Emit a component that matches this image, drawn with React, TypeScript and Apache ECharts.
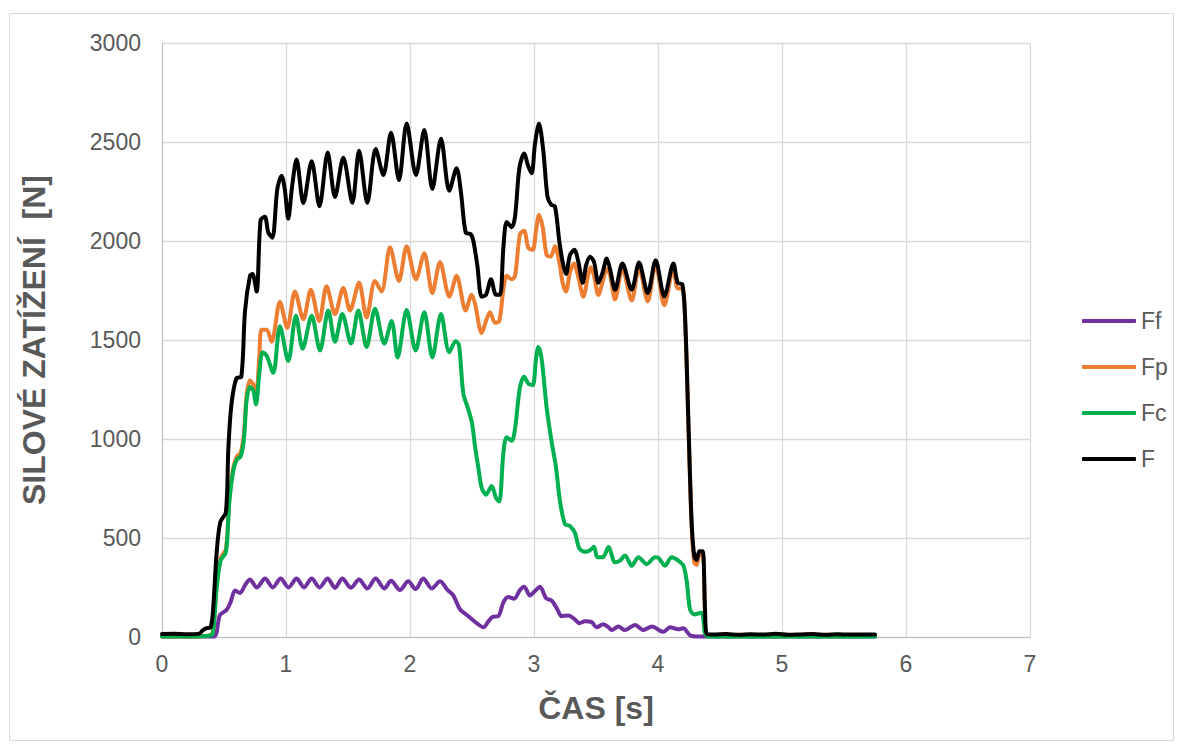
import React, { useEffect, useRef } from "react";
import * as echarts from "echarts";

// Time [s] / force [N] pairs
const seriesNames = ["Ff", "Fp", "Fc", "F"];
const seriesColors = ["#7030A0", "#ED7D31", "#00B050", "#000000"];

const dataFf: [number, number][] = [
  [0, 2], [0.3, 2], [0.42, 3], [0.467, 110], [0.521, 137], [0.553, 175], [0.589, 235], [0.629, 222],
  [0.67, 262], [0.709, 290], [0.764, 250], [0.831, 295], [0.893, 250], [0.957, 295], [1.02, 250],
  [1.085, 295], [1.145, 250], [1.207, 295], [1.27, 250], [1.336, 295], [1.395, 248], [1.454, 295],
  [1.524, 249], [1.589, 290], [1.656, 245], [1.723, 295], [1.793, 245], [1.847, 284], [1.919, 237],
  [1.986, 281], [2.045, 242], [2.107, 295], [2.175, 245], [2.242, 281], [2.304, 237], [2.349, 210],
  [2.403, 140], [2.45, 115], [2.49, 95], [2.538, 70], [2.592, 49], [2.632, 79], [2.667, 102],
  [2.712, 105], [2.753, 175], [2.793, 202], [2.839, 193], [2.887, 237], [2.92, 254], [2.968, 210],
  [3.008, 232], [3.048, 254], [3.097, 196], [3.143, 184], [3.188, 140], [3.223, 105], [3.277, 109],
  [3.331, 88], [3.366, 70], [3.411, 79], [3.465, 75], [3.505, 49], [3.559, 65], [3.6, 50],
  [3.627, 35], [3.68, 53], [3.734, 35], [3.815, 61], [3.882, 35], [3.95, 53], [4.043, 26],
  [4.097, 49], [4.164, 39], [4.205, 44], [4.258, 9], [4.326, 2], [4.5, 2], [4.8, 3], [5.1, 2],
  [5.4, 3], [5.75, 2],
];

const dataFp: [number, number][] = [
  [0, 3], [0.2, 3], [0.3, 4], [0.38, 8], [0.41, 22], [0.44, 255], [0.473, 398], [0.516, 445],
  [0.543, 695], [0.575, 855], [0.602, 910], [0.634, 930], [0.661, 1030], [0.682, 1220], [0.709, 1295],
  [0.736, 1275], [0.758, 1215], [0.785, 1420], [0.803, 1552], [0.844, 1552], [0.884, 1491],
  [0.951, 1693], [1.01, 1561], [1.072, 1745], [1.14, 1605], [1.2, 1754], [1.268, 1596], [1.327, 1771],
  [1.395, 1631], [1.462, 1763], [1.516, 1649], [1.589, 1789], [1.65, 1614], [1.718, 1798],
  [1.771, 1745], [1.839, 1968], [1.911, 1798], [1.973, 1973], [2.048, 1807], [2.115, 1938],
  [2.18, 1737], [2.242, 1894], [2.317, 1719], [2.376, 1824], [2.449, 1649], [2.497, 1728],
  [2.524, 1684], [2.578, 1535], [2.613, 1596], [2.645, 1640], [2.686, 1587], [2.72, 1596],
  [2.753, 1754], [2.78, 1824], [2.82, 1807], [2.847, 1824], [2.887, 2035], [2.92, 2052],
  [2.954, 1965], [2.99, 1956], [3.016, 2052], [3.04, 2131], [3.07, 2070], [3.102, 1929],
  [3.134, 1921], [3.169, 1973], [3.204, 1894], [3.231, 1789], [3.258, 1745], [3.29, 1842],
  [3.323, 1886], [3.358, 1815], [3.398, 1719], [3.438, 1833], [3.457, 1868], [3.484, 1824],
  [3.519, 1728], [3.559, 1807], [3.586, 1859], [3.613, 1830], [3.654, 1705], [3.713, 1862],
  [3.788, 1700], [3.847, 1866], [3.917, 1695], [3.981, 1880], [4.051, 1675], [4.124, 1862],
  [4.159, 1760], [4.197, 1760], [4.22, 1570], [4.244, 1095], [4.271, 560], [4.293, 375],
  [4.312, 365], [4.333, 415], [4.36, 418], [4.379, 130], [4.393, 8], [4.5, 5], [4.8, 4],
  [5.1, 5], [5.4, 4], [5.75, 5],
];

const dataFc: [number, number][] = [
  [0, 3], [0.2, 3], [0.3, 4], [0.38, 7], [0.41, 18], [0.44, 245], [0.473, 386], [0.516, 430],
  [0.543, 684], [0.575, 842], [0.602, 895], [0.634, 912], [0.661, 1000], [0.682, 1193], [0.709, 1263],
  [0.736, 1245], [0.758, 1175], [0.785, 1333], [0.811, 1438], [0.844, 1421], [0.897, 1333],
  [0.951, 1570], [1.018, 1394], [1.08, 1622], [1.134, 1456], [1.207, 1622], [1.274, 1447],
  [1.341, 1649], [1.395, 1491], [1.454, 1631], [1.524, 1482], [1.583, 1649], [1.65, 1465],
  [1.718, 1658], [1.793, 1482], [1.852, 1596], [1.9, 1412], [1.973, 1652], [2.045, 1447],
  [2.115, 1640], [2.18, 1412], [2.25, 1631], [2.317, 1438], [2.368, 1494], [2.395, 1475],
  [2.43, 1230], [2.47, 1150], [2.5, 1080], [2.525, 960], [2.55, 860], [2.578, 754], [2.613, 719],
  [2.659, 763], [2.694, 702], [2.72, 684], [2.753, 930], [2.78, 1009], [2.82, 991], [2.847, 1052],
  [2.887, 1263], [2.92, 1315], [2.954, 1280], [2.99, 1272], [3.016, 1403], [3.035, 1465],
  [3.062, 1403], [3.102, 1158], [3.143, 982], [3.177, 859], [3.21, 684], [3.25, 570], [3.29, 561],
  [3.33, 526], [3.366, 447], [3.411, 430], [3.452, 438], [3.484, 456], [3.511, 403], [3.556, 403],
  [3.6, 455], [3.654, 377], [3.694, 386], [3.734, 412], [3.788, 360], [3.842, 403], [3.909, 368],
  [3.976, 403], [4.003, 400], [4.057, 360], [4.11, 403], [4.164, 386], [4.205, 360], [4.232, 281],
  [4.258, 140], [4.293, 114], [4.352, 123], [4.379, 18], [4.406, 2], [4.6, 3], [4.9, 2],
  [5.2, 3], [5.5, 2], [5.75, 3],
];

const dataF: [number, number][] = [
  [0, 15], [0.1, 16], [0.2, 14], [0.3, 17], [0.33, 35], [0.36, 45], [0.39, 48], [0.41, 120],
  [0.44, 420], [0.47, 580], [0.515, 630], [0.535, 950], [0.56, 1175], [0.6, 1307], [0.64, 1315],
  [0.67, 1650], [0.71, 1825], [0.73, 1833], [0.763, 1745], [0.795, 2105], [0.83, 2122],
  [0.857, 2043], [0.89, 2017], [0.93, 2263], [0.965, 2330], [0.99, 2263], [1.018, 2113],
  [1.05, 2280], [1.085, 2412], [1.14, 2192], [1.207, 2403], [1.27, 2175], [1.336, 2447],
  [1.395, 2222], [1.462, 2421], [1.535, 2193], [1.589, 2456], [1.656, 2193], [1.723, 2465],
  [1.785, 2333], [1.847, 2547], [1.911, 2307], [1.973, 2593], [2.048, 2333], [2.115, 2561],
  [2.18, 2263], [2.25, 2517], [2.317, 2254], [2.376, 2368], [2.411, 2245], [2.449, 2043],
  [2.489, 2035], [2.511, 2000], [2.543, 1877], [2.578, 1719], [2.613, 1728], [2.653, 1807],
  [2.694, 1728], [2.726, 1728], [2.753, 1965], [2.78, 2096], [2.82, 2070], [2.847, 2122],
  [2.882, 2368], [2.92, 2442], [2.954, 2377], [2.981, 2342], [3.008, 2491], [3.04, 2593],
  [3.075, 2456], [3.108, 2228], [3.137, 2184], [3.169, 2175], [3.204, 2000], [3.231, 1894],
  [3.258, 1833], [3.29, 1929], [3.325, 1956], [3.358, 1894], [3.393, 1789], [3.42, 1877],
  [3.452, 1921], [3.484, 1894], [3.519, 1789], [3.554, 1842], [3.586, 1912], [3.613, 1859],
  [3.654, 1754], [3.713, 1886], [3.788, 1754], [3.847, 1891], [3.917, 1737], [3.981, 1903],
  [4.051, 1720], [4.124, 1886], [4.159, 1789], [4.197, 1780], [4.22, 1590], [4.244, 1113],
  [4.271, 583], [4.293, 406], [4.312, 389], [4.333, 433], [4.36, 433], [4.379, 141], [4.393, 15],
  [4.45, 12], [4.55, 15], [4.65, 11], [4.75, 14], [4.85, 12], [4.95, 16], [5.05, 11], [5.15, 13],
  [5.25, 15], [5.35, 11], [5.45, 14], [5.55, 12], [5.65, 13], [5.75, 12],
];

const allData = [dataFf, dataFp, dataFc, dataF];

const xMin = 0, xMax = 7, xStep = 1;
const yMin = 0, yMax = 3000, yStep = 500;

const FONT = "'Liberation Sans', Arial, sans-serif";
const GRAY = "#595959";

export default function App() {
  const ref = useRef<HTMLDivElement>(null);
  useEffect(() => {
    if (!ref.current) return;
    const chart = echarts.init(ref.current, undefined, { renderer: "svg" });
    chart.setOption({
      animation: false,
      backgroundColor: "#ffffff",
      textStyle: { fontFamily: FONT },
      grid: { left: 162, top: 43, width: 868, height: 594, containLabel: false },
      graphic: [
        {
          type: "rect",
          shape: { x: 9.5, y: 13.5, width: 1164, height: 727 },
          style: { fill: "none", stroke: "#d9d9d9", lineWidth: 1 },
          silent: true,
        },
      ],
      legend: {
        orient: "vertical",
        left: 1077,
        top: 304,
        icon: "roundRect",
        itemWidth: 54,
        itemHeight: 4,
        itemGap: 22,
        textStyle: { fontSize: 23, color: GRAY, fontFamily: FONT, lineHeight: 24 },
        data: seriesNames,
      },
      xAxis: {
        type: "value",
        min: xMin,
        max: xMax,
        interval: xStep,
        name: "ČAS [s]",
        nameLocation: "middle",
        nameGap: 55,
        nameTextStyle: { fontSize: 32, fontWeight: "bold", color: GRAY, fontFamily: FONT },
        axisLine: { show: true, onZero: false, lineStyle: { color: "#bfbfbf", width: 1 } },
        axisTick: { show: false },
        axisLabel: { color: GRAY, fontSize: 23, margin: 15, fontFamily: FONT },
        splitLine: { show: true, lineStyle: { color: "#d9d9d9", width: 1.3 } },
      },
      yAxis: {
        type: "value",
        min: yMin,
        max: yMax,
        interval: yStep,
        name: "SILOVÉ ZATÍŽENÍ  [N]",
        nameLocation: "middle",
        nameRotate: 90,
        nameGap: 112,
        nameTextStyle: { fontSize: 32, fontWeight: "bold", color: GRAY, fontFamily: FONT },
        axisLine: { show: true, lineStyle: { color: "#bfbfbf", width: 1 } },
        axisTick: { show: false },
        axisLabel: {
          color: GRAY,
          fontSize: 23,
          margin: 21,
          fontFamily: FONT,
          formatter: (v: number) => String(v),
        },
        splitLine: { show: true, lineStyle: { color: "#d9d9d9", width: 1.3 } },
      },
      series: allData.map((d, i) => ({
        name: seriesNames[i],
        type: "line",
        data: d,
        symbol: "none",
        showSymbol: false,
        smooth: 0.3,
        color: seriesColors[i],
        lineStyle: { width: 4, color: seriesColors[i], cap: "round", join: "round" },
        z: 2 + i,
      })),
    });
    return () => chart.dispose();
  }, []);
  return (
    <div
      ref={ref}
      style={{ position: "absolute", left: 0, top: 0, width: 1183, height: 749, background: "#fff" }}
    />
  );
}
